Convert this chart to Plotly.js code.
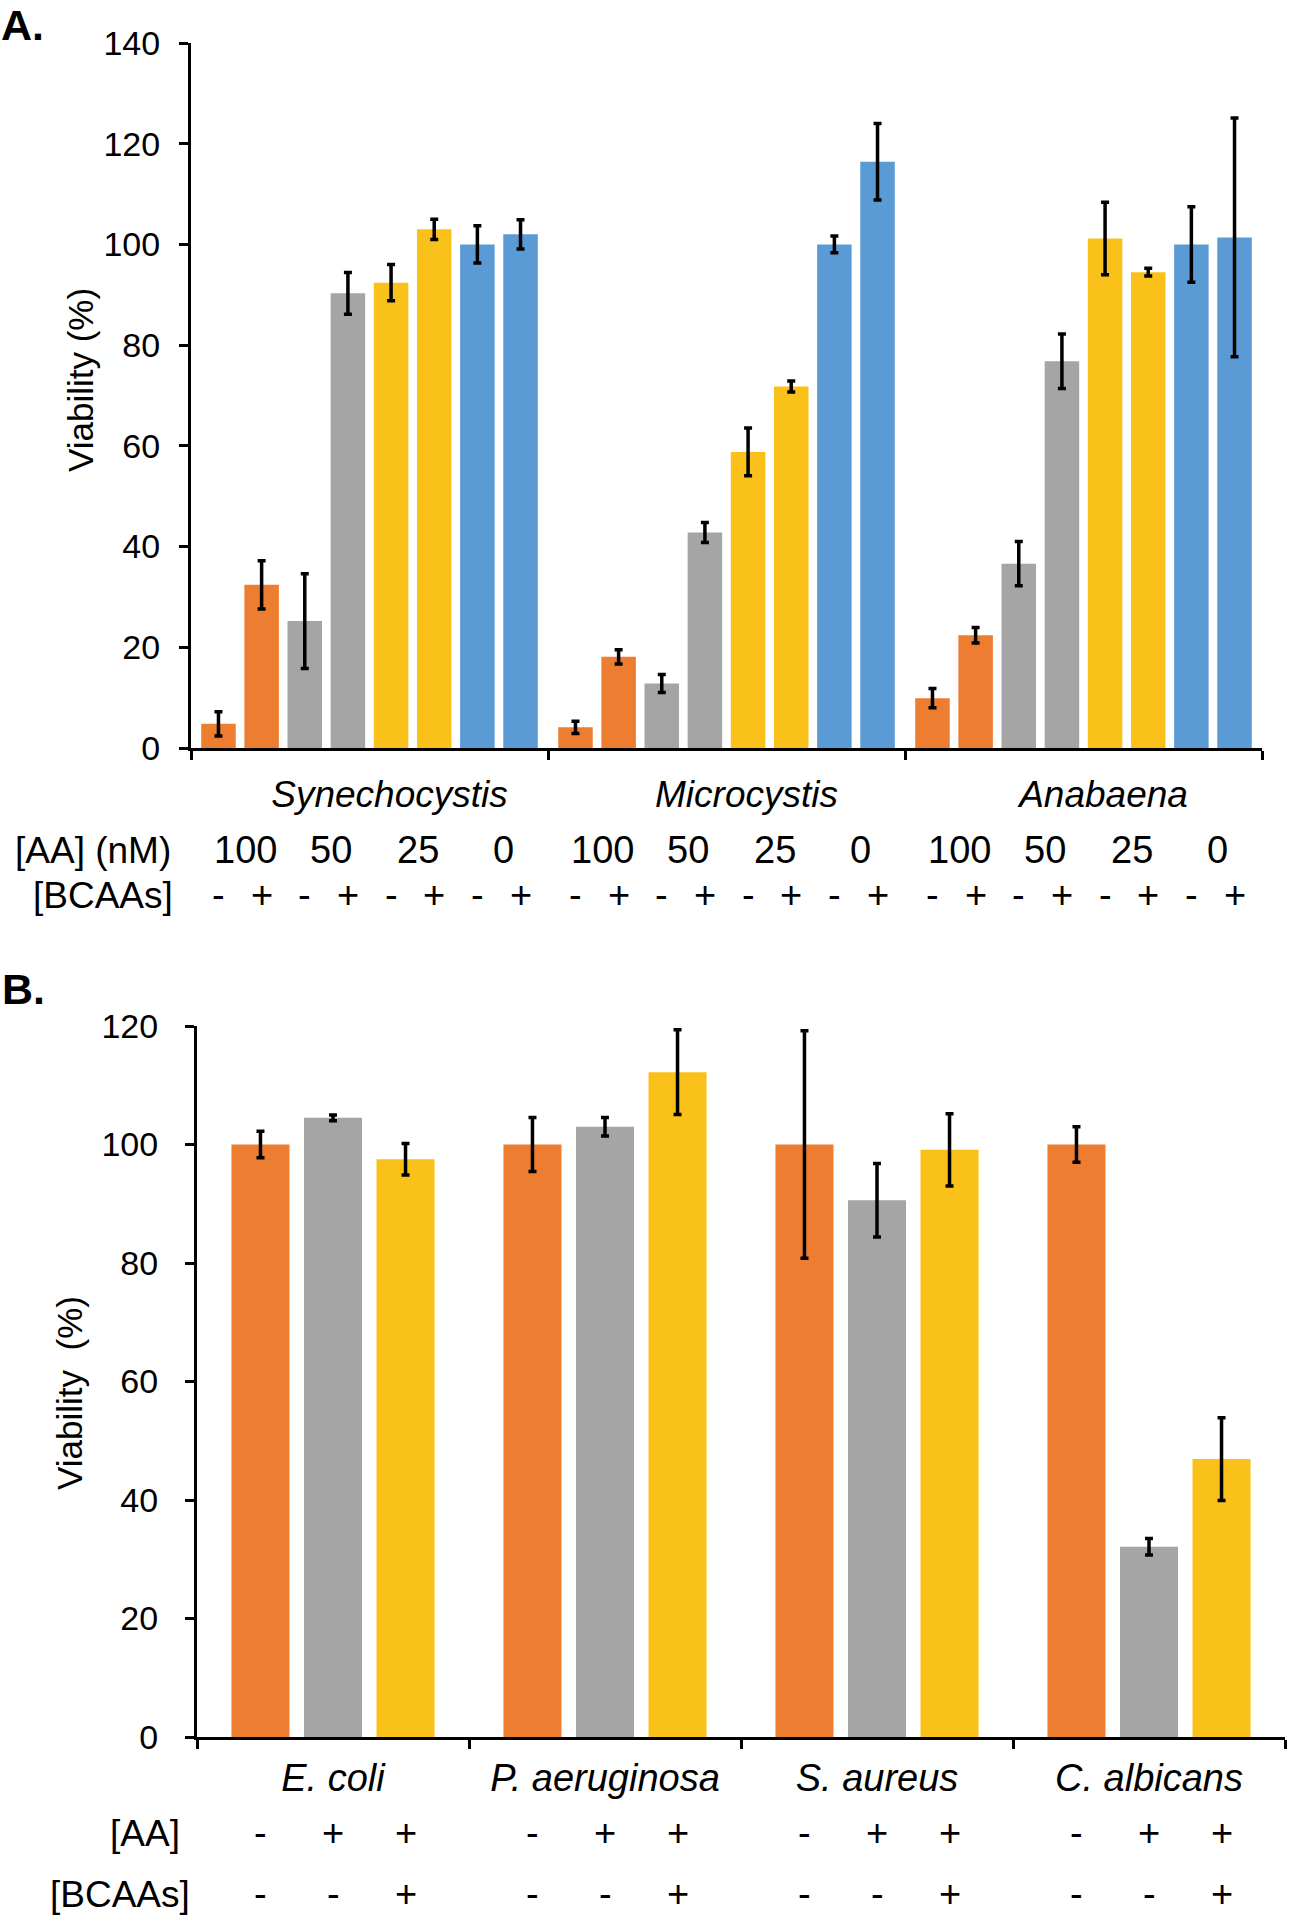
<!DOCTYPE html>
<html>
<head>
<meta charset="utf-8">
<script src="https://cdn.plot.ly/plotly-3.0.1.min.js"></script>
<style>html,body{margin:0;padding:0;background:#fff}#a,#b{width:1291px;height:960px}</style>
</head>
<body>
<div id="a"></div>
<div id="b"></div>
<script>
// ---------- Panel A data ----------
const speciesA = ['Synechocystis', 'Microcystis', 'Anabaena'];
const aaConcLabels = ['100', '50', '25', '0'];
const bcaaSignsA = ['-', '+'];
// values per series: [Synechocystis, Microcystis, Anabaena]
const aa100_minus = [4.8, 4.1, 9.9];
const aa100_minus_err = [2.4, 1.2, 1.9];
const aa100_plus = [32.4, 18.1, 22.4];
const aa100_plus_err = [4.8, 1.4, 1.55];
const aa50_minus = [25.2, 12.8, 36.6];
const aa50_minus_err = [9.4, 1.8, 4.4];
const aa50_plus = [90.3, 42.8, 76.8];
const aa50_plus_err = [4.15, 2.0, 5.4];
const aa25_minus = [92.4, 58.8, 101.2];
const aa25_minus_err = [3.6, 4.75, 7.2];
const aa25_plus = [103.0, 71.8, 94.5];
const aa25_plus_err = [2.0, 1.1, 0.75];
const aa0_minus = [100, 100, 100];
const aa0_minus_err = [3.7, 1.65, 7.5];
const aa0_plus = [102.0, 116.4, 101.4];
const aa0_plus_err = [2.9, 7.6, 23.7];
const yTicksA = [0, 20, 40, 60, 80, 100, 120, 140];

// ---------- Panel B data ----------
const speciesB = ['E. coli', 'P. aeruginosa', 'S. aureus', 'C. albicans'];
const aaSignsB = ['-', '+', '+'];
const bcaaSignsB = ['-', '-', '+'];
// values per series: [E. coli, P. aeruginosa, S. aureus, C. albicans]
const ctrl = [100, 100, 100, 100];
const ctrl_err = [2.25, 4.55, 19.2, 3.0];
const aaOnly = [104.5, 103.0, 90.6, 32.1];
const aaOnly_err = [0.5, 1.55, 6.2, 1.4];
const aaBcaa = [97.5, 112.2, 99.1, 46.9];
const aaBcaa_err = [2.65, 7.15, 6.1, 7.0];
const yTicksB = [0, 20, 40, 60, 80, 100, 120];

// ---------- styles ----------
const FONT = 'Liberation Sans, Arial, Helvetica, sans-serif';
const ORANGE = '#ED7D31', GRAY = '#A5A5A5', YELLOW = '#FAC11B', BLUE = '#5B9BD5';

const seriesA = [
  [aa100_minus, aa100_minus_err, ORANGE],
  [aa100_plus, aa100_plus_err, ORANGE],
  [aa50_minus, aa50_minus_err, GRAY],
  [aa50_plus, aa50_plus_err, GRAY],
  [aa25_minus, aa25_minus_err, YELLOW],
  [aa25_plus, aa25_plus_err, YELLOW],
  [aa0_minus, aa0_minus_err, BLUE],
  [aa0_plus, aa0_plus_err, BLUE]
];
const seriesB = [
  [ctrl, ctrl_err, ORANGE],
  [aaOnly, aaOnly_err, GRAY],
  [aaBcaa, aaBcaa_err, YELLOW]
];

function makeTraces(series, cats) {
  return series.map(([vals, errs, col]) => ({
    type: 'bar', x: cats, y: vals,
    marker: {color: col, line: {width: 0}},
    error_y: {type: 'data', array: errs, visible: true, color: '#000', thickness: 3.5, width: 4},
    hoverinfo: 'skip'
  }));
}

function axisCommon() {
  return {
    showline: true, linewidth: 3, linecolor: '#000',
    ticks: 'outside', ticklen: 9, tickwidth: 3, tickcolor: '#000',
    showgrid: false, zeroline: false, fixedrange: true
  };
}

function ann(text, x, y, opts) {
  return Object.assign({text: text, x: x, y: y, showarrow: false,
    font: {family: FONT, size: 38, color: '#000'}}, opts);
}
const rowFont = {family: FONT, size: 37, color: '#000'};

// ---------- Panel A ----------
const GAP_A = 0.033, GROUPGAP_A = 0.2;
const pitchA = (1 - GAP_A) / seriesA.length;
const annA = [];
annA.push(ann('<b>A.</b>', 0, 1, {xref: 'paper', yref: 'paper', xanchor: 'left', yanchor: 'middle', xshift: -192, yshift: 18, font: {family: FONT, size: 43, color: '#000'}}));
annA.push(ann('Viability (%)', 0, 0.522, {xref: 'paper', yref: 'paper', xanchor: 'center', yanchor: 'middle', textangle: -90, xshift: -110, font: {family: FONT, size: 35, color: '#000'}}));
annA.push(ann('[AA] (nM)', 0, 0, {xref: 'paper', yref: 'paper', xanchor: 'right', yanchor: 'middle', xshift: -18, yshift: -102, font: rowFont}));
annA.push(ann('[BCAAs]', 0, 0, {xref: 'paper', yref: 'paper', xanchor: 'right', yanchor: 'middle', xshift: -16, yshift: -147, font: rowFont}));
speciesA.forEach((s, g) => {
  aaConcLabels.forEach((lab, k) => {
    const xc = g + ((2 * k + 0.5) - (seriesA.length - 1) / 2) * pitchA;
    annA.push(ann(lab, xc, 0, {xref: 'x', yref: 'paper', xanchor: 'center', yanchor: 'middle', xshift: 5, yshift: -102}));
  });
  seriesA.forEach((_, i) => {
    const xc = g + (i - (seriesA.length - 1) / 2) * pitchA;
    annA.push(ann(bcaaSignsA[i % 2], xc, 0, {xref: 'x', yref: 'paper', xanchor: 'center', yanchor: 'middle', yshift: -147}));
  });
});

const layoutA = {
  width: 1291, height: 960,
  margin: {l: 191, r: 29, t: 43, b: 212, pad: 0},
  paper_bgcolor: '#fff', plot_bgcolor: '#fff',
  showlegend: false, barmode: 'group', bargap: GAP_A, bargroupgap: GROUPGAP_A,
  font: {family: FONT, size: 33, color: '#000'},
  xaxis: Object.assign(axisCommon(), {type: 'category', tickson: 'boundaries',
    tickfont: {family: FONT, size: 37, style: 'italic', color: '#000'},
    ticklabelstandoff: 12, ticklabelshift: 20}),
  yaxis: Object.assign(axisCommon(), {range: [0, 140], tickmode: 'array', tickvals: yTicksA,
    tickfont: {family: FONT, size: 34, color: '#000'}, ticklabelstandoff: 12}),
  annotations: annA
};

Plotly.newPlot('a', makeTraces(seriesA, speciesA), layoutA, {staticPlot: true});

// ---------- Panel B ----------
const GAP_B = 0.2, GROUPGAP_B = 0.2;
const pitchB = (1 - GAP_B) / seriesB.length;
const annB = [];
annB.push(ann('<b>B.</b>', 0, 1, {xref: 'paper', yref: 'paper', xanchor: 'left', yanchor: 'middle', xshift: -197, yshift: 37, font: {family: FONT, size: 43, color: '#000'}}));
annB.push(ann('Viability\u00a0\u00a0(%)', 0, 0.484, {xref: 'paper', yref: 'paper', xanchor: 'center', yanchor: 'middle', textangle: -90, xshift: -127, font: {family: FONT, size: 35, color: '#000'}}));
annB.push(ann('[AA]', 0, 0, {xref: 'paper', yref: 'paper', xanchor: 'right', yanchor: 'middle', xshift: -15, yshift: -96, font: rowFont}));
annB.push(ann('[BCAAs]', 0, 0, {xref: 'paper', yref: 'paper', xanchor: 'right', yanchor: 'middle', xshift: -5, yshift: -157, font: rowFont}));
speciesB.forEach((s, g) => {
  seriesB.forEach((_, i) => {
    const xc = g + (i - (seriesB.length - 1) / 2) * pitchB;
    annB.push(ann(aaSignsB[i], xc, 0, {xref: 'x', yref: 'paper', xanchor: 'center', yanchor: 'middle', yshift: -96}));
    annB.push(ann(bcaaSignsB[i], xc, 0, {xref: 'x', yref: 'paper', xanchor: 'center', yanchor: 'middle', yshift: -157}));
  });
});

const layoutB = {
  width: 1291, height: 960,
  margin: {l: 197, r: 6, t: 66, b: 183, pad: 0},
  paper_bgcolor: '#fff', plot_bgcolor: '#fff',
  showlegend: false, barmode: 'group', bargap: GAP_B, bargroupgap: GROUPGAP_B,
  font: {family: FONT, size: 33, color: '#000'},
  xaxis: Object.assign(axisCommon(), {type: 'category', tickson: 'boundaries',
    tickfont: {family: FONT, size: 38, style: 'italic', color: '#000'},
    ticklabelstandoff: 5}),
  yaxis: Object.assign(axisCommon(), {range: [0, 120], tickmode: 'array', tickvals: yTicksB,
    tickfont: {family: FONT, size: 34, color: '#000'}, ticklabelstandoff: 20}),
  annotations: annB
};

Plotly.newPlot('b', makeTraces(seriesB, speciesB), layoutB, {staticPlot: true});
</script>
</body>
</html>
